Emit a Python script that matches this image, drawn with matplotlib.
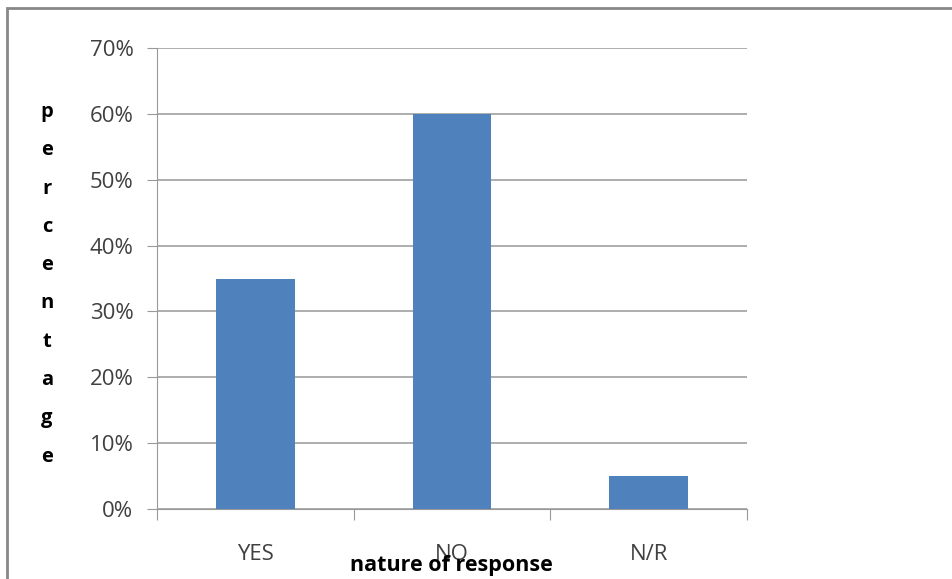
import numpy as np
import matplotlib
matplotlib.use("Agg")
import matplotlib.pyplot as plt
from matplotlib.patches import Rectangle

# responses and their share
categories = ["YES", "NO", "N/R"]
percent = [35, 60, 5]
yticks = [0, 10, 20, 30, 40, 50, 60, 70]

plt.rcParams['font.family'] = ['Open Sans', 'DejaVu Sans']

W, H = 953, 579
fig = plt.figure(figsize=(W / 100, H / 100), dpi=100)

# outer frame of the chart
fig.patches.append(Rectangle((7 / W, -0.05), 1.1, 1 - 8 / H + 0.05, transform=fig.transFigure,
                             fill=False, edgecolor='#888888', linewidth=2.0))

ax = fig.add_axes([157 / W, 1 - 509 / H, (747 - 157) / W, (509 - 48) / H])
x = np.arange(len(categories))
ax.bar(x, percent, width=0.4, color='#4F81BD', zorder=3)

ax.set_xlim(-0.5, len(categories) - 0.5)
ax.set_ylim(0, 70)
ax.set_yticks(yticks)
ax.set_yticklabels([f"{v}%" for v in yticks], fontsize=16, color='#404040')
ax.set_xticks(np.arange(-0.5, len(categories), 1.0))
ax.set_xticklabels([])
ax.set_xticks(x, minor=True)
ax.set_xticklabels(categories, minor=True, fontsize=16, color='#404040')
ax.tick_params(axis='x', which='minor', length=0, pad=25)
ax.tick_params(axis='x', which='major', length=8, color='#999999', direction='out')
ax.tick_params(axis='y', length=7, color='#999999', pad=10)

ax.grid(axis='y', color='#A0A0A0', linewidth=1.2, zorder=0)
for s in ['top', 'right']:
    ax.spines[s].set_visible(False)
ax.spines['left'].set_color('#999999')
ax.spines['bottom'].set_color('#999999')

# stacked vertical axis title
word = "percentage"
for i, ch in enumerate(word):
    fig.text(47 / W, 1 - (112 + i * 38.3) / H, ch, ha='center', va='center',
             fontsize=14.5, fontweight='bold', color='black')

fig.text(451 / W, 1 - 566 / H, "nature of response", ha='center', va='center',
         fontsize=15.5, fontweight='bold', color='black')

fig.savefig("out.png", dpi=100)
